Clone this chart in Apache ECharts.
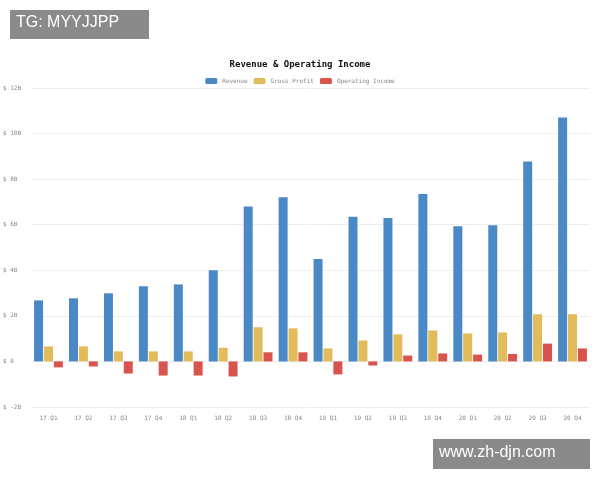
<!DOCTYPE html><html><head><meta charset="utf-8"><script src="https://cdn.jsdelivr.net/npm/echarts@6/dist/echarts.min.js"></script></head><body style="margin:0"><div id="c" style="width:600px;height:480px"></div><script>
const categories=['17 Q1','17 Q2','17 Q3','17 Q4','18 Q1','18 Q2','18 Q3','18 Q4','19 Q1','19 Q2','19 Q3','19 Q4','20 Q1','20 Q2','20 Q3','20 Q4'];
const revenue=[2.68,2.77,2.99,3.3,3.38,4.0,6.8,7.2,4.5,6.35,6.3,7.35,5.93,5.98,8.77,10.7];
const grossProfit=[0.66,0.66,0.44,0.44,0.44,0.6,1.5,1.45,0.57,0.92,1.19,1.36,1.23,1.27,2.07,2.07];
const operatingIncome=[-0.26,-0.22,-0.53,-0.62,-0.62,-0.66,0.4,0.4,-0.57,-0.18,0.26,0.35,0.3,0.33,0.78,0.57];
const mono='DejaVu Sans Mono';
const ch=echarts.init(document.getElementById('c'));
ch.setOption({
title:{text:'Revenue & Operating Income',left:'center',top:55,textStyle:{fontFamily:mono,fontSize:9,fontWeight:'bold',color:'#111'}},
legend:{top:73,left:'center',itemWidth:12,itemHeight:6,itemGap:6,textStyle:{fontFamily:mono,fontSize:6,color:'#888'},data:['Revenue','Gross Profit','Operating Income']},
grid:{left:30,right:10,top:88,bottom:73},
xAxis:{type:'category',data:categories,axisLine:{show:false},axisTick:{show:false},axisLabel:{fontFamily:mono,fontSize:6,color:'#888',margin:8}},
yAxis:{type:'value',min:-2,max:12,interval:2,axisLabel:{fontFamily:mono,fontSize:6,color:'#888',formatter:v=>'$ '+v+(v?'B':''),align:'left',margin:28},splitLine:{lineStyle:{color:'#eee'}}},
series:[
{name:'Revenue',type:'bar',data:revenue,itemStyle:{color:'#4a89c5'},barWidth:9,barGap:'10%'},
{name:'Gross Profit',type:'bar',data:grossProfit,itemStyle:{color:'#e2bb5a'},barWidth:9},
{name:'Operating Income',type:'bar',data:operatingIncome,itemStyle:{color:'#d9534f'},barWidth:9}],
graphic:[
{type:'rect',left:10,top:10,shape:{width:139,height:29},style:{fill:'#8a8a8a'}},
{type:'text',left:16,top:15,style:{text:'TG: MYYJJPP',fill:'#fff',font:'16px "Liberation Sans"'}},
{type:'rect',left:433,top:439,shape:{width:157,height:30},style:{fill:'#8a8a8a'}},
{type:'text',left:439,top:445,style:{text:'www.zh-djn.com',fill:'#fff',font:'16px "Liberation Sans"'}}]
});
</script></body></html>
